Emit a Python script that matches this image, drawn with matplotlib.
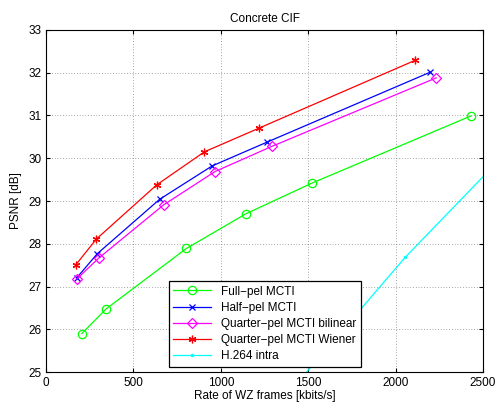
import matplotlib
matplotlib.use('Agg')
import matplotlib.pyplot as plt

plt.rcParams['font.family'] = ['Liberation Sans', 'DejaVu Sans']
plt.rcParams['font.size'] = 8.5

# Rate-distortion points
full_x = [205, 345, 803, 1143, 1522, 2431]
full_y = [25.90, 26.48, 27.89, 28.70, 29.42, 30.99]

half_x = [175, 294, 650, 950, 1266, 2196]
half_y = [27.20, 27.77, 29.04, 29.82, 30.38, 32.01]

qbil_x = [177, 303, 673, 967, 1293, 2232]
qbil_y = [27.18, 27.67, 28.91, 29.69, 30.28, 31.88]

qwie_x = [169, 288, 634, 906, 1216, 2111]
qwie_y = [27.50, 28.11, 29.38, 30.15, 30.70, 32.29]

h264_x = [1350, 2054, 2800]
h264_y = [24.33, 27.68, 30.84]

labels = ['Full\u2212pel MCTI', 'Half\u2212pel MCTI', 'Quarter\u2212pel MCTI bilinear',
          'Quarter\u2212pel MCTI Wiener', 'H.264 intra']

fig = plt.figure(figsize=(4.97, 4.08), dpi=100)
ax = fig.add_axes([0.0926, 0.0882, 0.8794, 0.8383])

ax.plot(full_x, full_y, ls='-', marker='o', color='#00ff00', lw=0.9, ms=6, mfc='none', mew=0.9, label=labels[0])
ax.plot(half_x, half_y, ls='-', marker='x', color='#0000ff', lw=0.9, ms=5, mew=0.9, label=labels[1])
ax.plot(qbil_x, qbil_y, ls='-', marker='D', color='#ff00ff', lw=0.9, ms=5, mfc='none', mew=0.9, label=labels[2])
ax.plot(qwie_x, qwie_y, ls='-', marker=(6, 2, 0), color='#ff0000', lw=0.9, ms=5.5, mew=0.9, label=labels[3])
ax.plot(h264_x, h264_y, ls='-', marker='.', color='#00ffff', lw=0.9, ms=3, label=labels[4])

ax.set_xlim(0, 2500)
ax.set_ylim(25, 33)
ax.set_xticks([0, 500, 1000, 1500, 2000, 2500])
ax.set_yticks(range(25, 34))
ax.tick_params(direction='in', length=3, top=True, right=True)
ax.grid(True, linestyle=(0, (1, 3)), color='#555555', lw=0.5)

ax.set_xlabel('Rate of WZ frames [kbits/s]', labelpad=1)
ax.set_ylabel('PSNR [dB]', labelpad=4)
ax.set_title('Concrete CIF', fontsize=8.5, pad=6)

leg = ax.legend(loc='upper left', bbox_to_anchor=(0.267, 0.284), fancybox=False,
                edgecolor='black', framealpha=1, borderpad=0.4, labelspacing=0.35,
                handlelength=3.2, fontsize=8.5)
leg.get_frame().set_linewidth(0.9)

plt.savefig('out.png', dpi=100)
